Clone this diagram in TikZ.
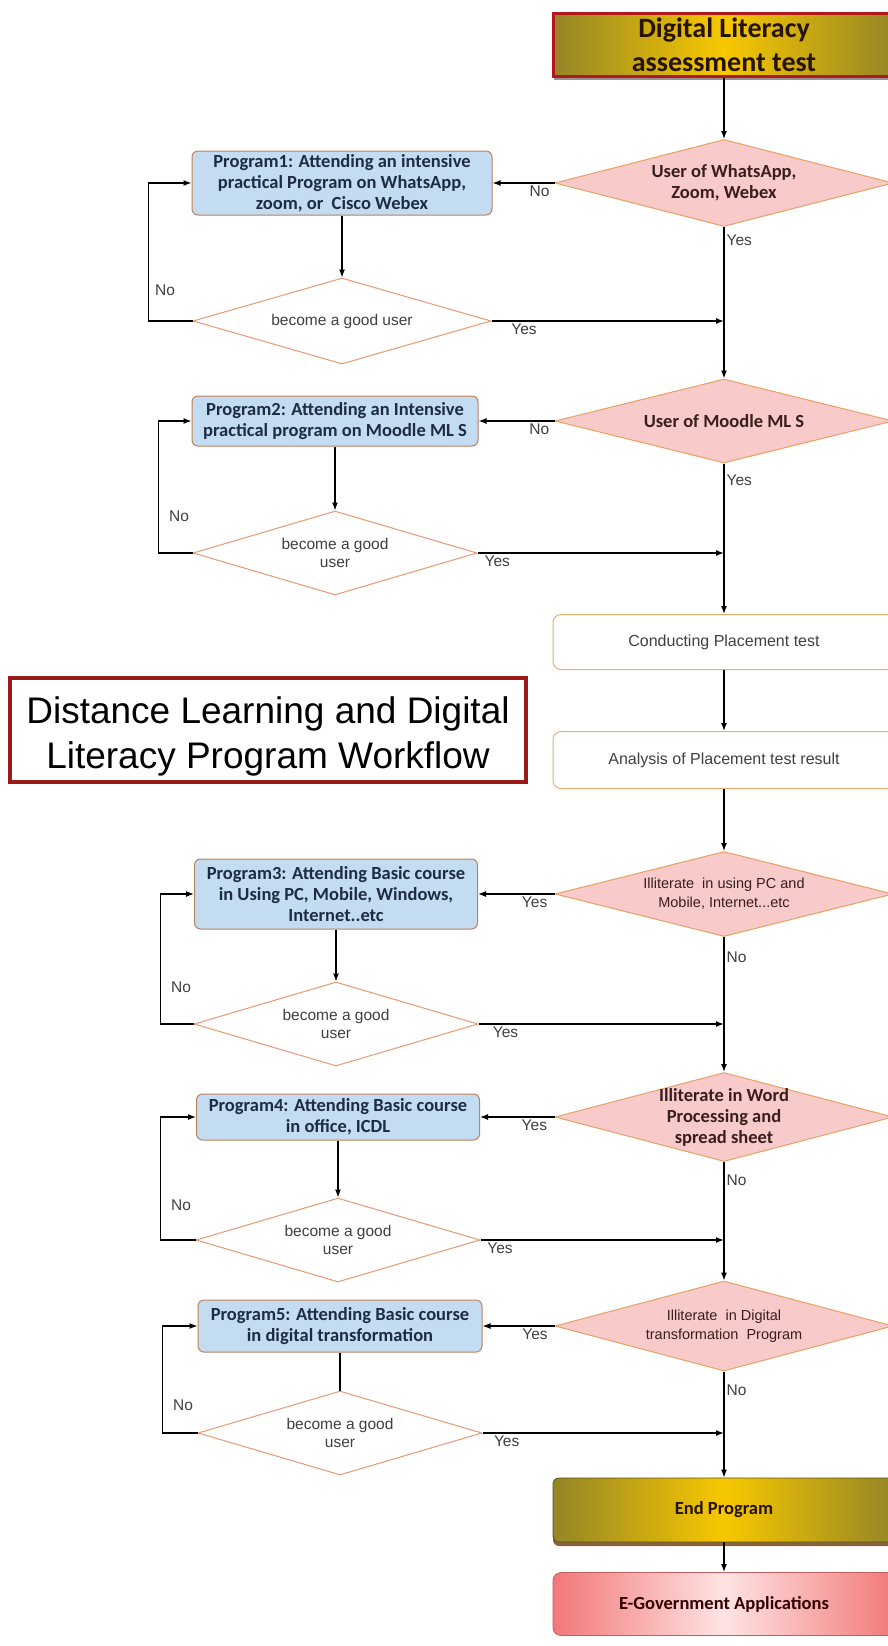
\documentclass[tikz,border=0pt]{standalone}
\usepackage{fontspec}
\setmainfont{Liberation Sans}
\newfontfamily\calibri{Carlito}
\usetikzlibrary{arrows.meta, positioning, shapes.geometric, shadows}
\usepackage{xcolor}

\definecolor{progblue}{HTML}{C4DCF2}
\definecolor{progedge}{HTML}{C0805A}
\definecolor{progtext}{HTML}{1E2B45}
\definecolor{decpink}{HTML}{F8CACA}
\definecolor{decedge}{HTML}{E8A064}
\definecolor{dectext}{HTML}{3A1E1E}
\definecolor{loopedge}{HTML}{E89A72}
\definecolor{placeedge}{HTML}{E8B070}
\definecolor{greytext}{HTML}{404040}
\definecolor{olivedge}{HTML}{948526}
\definecolor{goldmid}{HTML}{F8C800}
\definecolor{framered}{HTML}{B4171A}
\definecolor{titlered}{HTML}{9A1A1A}
\definecolor{egovedge}{HTML}{F27878}
\definecolor{egovmid}{HTML}{FFE4E4}

\begin{document}
\begin{tikzpicture}[x=1pt, y=-1pt, line width=1.3pt, >={Latex[length=8pt,width=6pt]}]

		% Define block styles
		\tikzstyle{boxfont} = [font=\calibri\bfseries\fontsize{18.5pt}{21pt}\selectfont]
		\tikzstyle{narrowfont} = [font=\fontsize{14.5pt}{19pt}\selectfont]
		\tikzstyle{prog} = [rectangle, rounded corners=6pt, draw=progedge, line width=1pt, fill=progblue, text=progtext, align=center, inner sep=2pt, boxfont]
		\tikzstyle{decision} = [diamond, aspect=3.9, inner sep=-10pt, draw=decedge, line width=1pt, fill=decpink, text=dectext, align=center, minimum width=338pt]
		\tikzstyle{check} = [diamond, aspect=3.4, inner sep=-6pt, draw=loopedge, line width=1pt, fill=white, text=greytext, align=center, minimum width=284pt, minimum height=84pt, font=\fontsize{15.5pt}{18.5pt}\selectfont]
		\tikzstyle{stage} = [rectangle, rounded corners=8pt, draw=placeedge, line width=1pt, fill=white, text=greytext, minimum width=342pt, font=\fontsize{16pt}{19pt}\selectfont]
		\tikzstyle{goldbar} = [rectangle, left color=olivedge, right color=olivedge, middle color=goldmid, minimum width=342pt, align=center]
		\tikzstyle{lbl} = [text=greytext, font=\fontsize{15.5pt}{18pt}\selectfont, inner sep=2pt]

		\path[use as bounding box, fill=white] (0,0) rectangle (887,1646);

		% Main column
		\node[goldbar, draw=framered, line width=3pt, minimum height=63pt, text=black!85!orange, font=\calibri\bfseries\fontsize{28pt}{34pt}\selectfont, drop shadow={shadow xshift=1pt, shadow yshift=-3pt, fill=black!70, opacity=0.6}] (start) at (724,45) {Digital Literacy\\assessment test};
		\node[decision, below of=start, node distance=138pt, minimum height=87pt, boxfont] (dec1) {User of WhatsApp,\\Zoom, Webex};
		\node[decision, below of=dec1, node distance=238pt, minimum height=84pt, boxfont] (dec2) {User of Moodle ML S};
		\node[stage, below of=dec2, node distance=221pt, minimum height=55pt] (place) {Conducting Placement test};
		\node[stage, below of=place, node distance=118pt, minimum height=57pt] (analysis) {Analysis of Placement test result};
		\node[decision, below of=analysis, node distance=134pt, minimum height=85pt, narrowfont] (dec3) {Illiterate\ \ in using PC and\\Mobile, Internet...etc};
		\node[decision, below of=dec3, node distance=223pt, minimum height=89pt, boxfont] (dec4) {Illiterate in Word\\Processing and\\spread sheet};
		\node[decision, below of=dec4, node distance=209pt, minimum height=90pt, narrowfont] (dec5) {Illiterate\ \ in Digital\\transformation\ \ Program};
		\node[goldbar, draw=olivedge!60!black, line width=0.8pt, rounded corners=6pt, minimum height=64pt, text=black!85!orange, boxfont, drop shadow={shadow xshift=0pt, shadow yshift=-4pt, fill=brown!65!black, opacity=0.9}] (endprog) [below of=dec5, node distance=184pt] {End Program};
		\node[rectangle, rounded corners=8pt, draw=egovedge!80!black, line width=0.8pt, left color=egovedge, right color=egovedge, middle color=egovmid, minimum width=342pt, minimum height=63pt, text=black!80!red, boxfont, below of=endprog, node distance=94pt] (egov) {E-Government Applications};

		% Training programs and their checks
		\node[prog, left of=dec1, node distance=382pt, minimum width=300pt, minimum height=64pt] (p1) {Program1: Attending an intensive\\practical Program on WhatsApp,\\zoom, or\ \ Cisco Webex};
		\node[check, below of=p1, node distance=138pt, minimum width=298pt, minimum height=86pt] (chk1) {become a good user};
		\node[prog, left of=dec2, node distance=389pt, minimum width=286pt, minimum height=50pt] (p2) {Program2: Attending an Intensive\\practical program on Moodle ML S};
		\node[check, below of=p2, node distance=132pt] (chk2) {become a good\\user};
		\node[prog, left of=dec3, node distance=388pt, minimum width=283pt, minimum height=70pt] (p3) {Program3: Attending Basic course\\in Using PC, Mobile, Windows,\\Internet..etc};
		\node[check, below of=p3, node distance=130pt] (chk3) {become a good\\user};
		\node[prog, left of=dec4, node distance=386pt, minimum width=283pt, minimum height=46pt] (p4) {Program4: Attending Basic course\\in office, ICDL};
		\node[check, below of=p4, node distance=123pt] (chk4) {become a good\\user};
		\node[prog, left of=dec5, node distance=384pt, minimum width=284pt, minimum height=52pt] (p5) {Program5: Attending Basic course\\in digital transformation};
		\node[check, below of=p5, node distance=107pt] (chk5) {become a good\\user};

		% Title
		\node[rectangle, draw=titlered, line width=4.5pt, fill=white, minimum width=516pt, minimum height=104pt, font=\fontsize{37pt}{45pt}\selectfont] (title) at (268,730) {\raisebox{-7pt}[\height][\depth]{\begin{tabular}{@{}c@{}}Distance Learning and Digital\\Literacy Program Workflow\end{tabular}}};

		% Merge points on the main line
		\coordinate (m1) at (chk1.east -| dec1.center);
		\coordinate (m2) at (chk2.east -| dec1.center);
		\coordinate (m3) at (chk3.east -| dec1.center);
		\coordinate (m4) at (chk4.east -| dec1.center);
		\coordinate (m5) at (chk5.east -| dec1.center);

		% Arrows
		\draw[->] (start) -- (dec1);
		\draw[->] (dec1.south) -- node[lbl, right, pos=0.09] (yes1) {Yes} (dec2.north);
		\draw[->] (dec2.south) -- node[lbl, right, pos=0.11] (yes2) {Yes} (place.north);
		\draw[->] (place) -- (analysis);
		\draw[->] (analysis) -- (dec3);
		\draw[->] (dec3.south) -- node[lbl, right, pos=0.15] (no3) {No} (dec4.north);
		\draw[->] (dec4.south) -- node[lbl, right, pos=0.15] (no4) {No} (dec5.north);
		\draw[->] (dec5.south) -- node[lbl, right, pos=0.18] (no5) {No} (endprog.north);
		\draw[->] (endprog) -- (egov);

		\draw[->] (dec1.west) -- node[lbl, below, pos=0.24] (no1) {No} (p1.east);
		\draw[->] (dec2.west) -- node[lbl, below, pos=0.2] (no2) {No} (p2.east);
		\draw[->] (dec3.west) -- node[lbl, below, pos=0.26] (yes3) {Yes} (p3.east);
		\draw[->] (dec4.west) -- node[lbl, below, pos=0.27] (yes4) {Yes} (p4.east);
		\draw[->] (dec5.west) -- node[lbl, below, pos=0.27] (yes5) {Yes} (p5.east);

		\draw[->] (p1) -- (chk1);
		\draw[->] (p2) -- (chk2);
		\draw[->] (p3) -- (chk3);
		\draw[->] (p4) -- (chk4);
		\draw (p5) -- (chk5);

		% Loops back to the programs
		\draw[->] (chk1.west) -- ++(-44,0) |- node[lbl, right=4pt, pos=0.11] (back1) {No} (p1.west);
		\draw[->] (chk2.west) -- ++(-34,0) |- node[lbl, right=8pt, pos=0.14] (back2) {No} (p2.west);
		\draw[->] (chk3.west) -- ++(-33,0) |- node[lbl, right=8pt, pos=0.14] (back3) {No} (p3.west);
		\draw[->] (chk4.west) -- ++(-35,0) |- node[lbl, right=8pt, pos=0.14] (back4) {No} (p4.west);
		\draw[->] (chk5.west) -- ++(-35,0) |- node[lbl, right=8pt, pos=0.13] (back5) {No} (p5.west);

		% Good users rejoin the main line
		\draw[->] (chk1.east) -- node[lbl, below, pos=0.14] (ok1) {Yes} (m1);
		\draw[->] (chk2.east) -- node[lbl, below, pos=0.08] (ok2) {Yes} (m2);
		\draw[->] (chk3.east) -- node[lbl, below, pos=0.11] (ok3) {Yes} (m3);
		\draw[->] (chk4.east) -- node[lbl, below, pos=0.08] (ok4) {Yes} (m4);
		\draw[->] (chk5.east) -- node[lbl, below, pos=0.1] (ok5) {Yes} (m5);

	\end{tikzpicture}
\end{document}
